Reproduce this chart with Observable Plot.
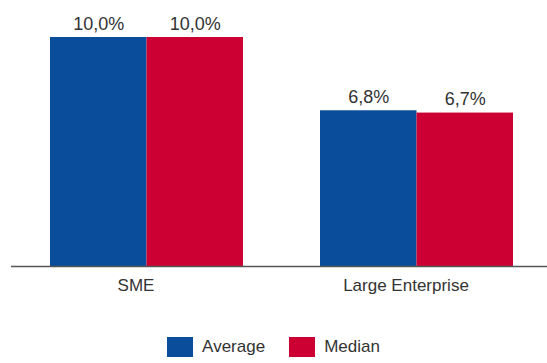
<!DOCTYPE html>
<html>
<head>
<meta charset="utf-8">
<script src="https://cdn.jsdelivr.net/npm/d3@7"></script>
<script src="https://cdn.jsdelivr.net/npm/@observablehq/plot@0.6"></script>
<style>
  html, body { margin: 0; padding: 0; background: #fff; }
  body { width: 547px; height: 363px; overflow: hidden; font-family: "Liberation Sans", Arial, sans-serif; }
  #legend { margin-top: 37px; display: flex; justify-content: center; }
  #legend .sw { display: inline-flex; align-items: center; margin: 0 12px; font-size: 17px; color: #333; }
</style>
</head>
<body>
<div id="chart"></div>
<div id="legend"></div>
<script>
const groups = ["SME", "Large Enterprise"];
const seriesNames = ["Average", "Median"];
const averageValues = [10.0, 6.8];
const medianValues = [10.0, 6.7];
const colors = ["#0a4d9a", "#cc0033"];

const avgData = groups.map((g, i) => ({group: g, series: "Average", value: averageValues[i]}));
const medData = groups.map((g, i) => ({group: g, series: "Median", value: medianValues[i]}));
const fmt = v => v.toFixed(1).replace(".", ",") + "%";

// half of the band width of each category group (two bars side by side)
const half = 96.5;

const plot = Plot.plot({
  width: 547,
  height: 300,
  marginTop: 37,
  marginBottom: 34,
  marginLeft: 11,
  marginRight: 0,
  style: {fontFamily: "Liberation Sans, Arial, sans-serif", fontSize: "17px", color: "#333"},
  x: {domain: groups, paddingInner: 0.285, paddingOuter: 0.135, align: 0.53, label: null},
  y: {domain: [0, 10], axis: null},
  color: {domain: seriesNames, range: colors},
  marks: [
    Plot.barY(avgData, {x: "group", y: "value", fill: "series", insetLeft: 0, insetRight: half}),
    Plot.barY(medData, {x: "group", y: "value", fill: "series", insetLeft: half, insetRight: 0}),
    Plot.text(avgData, {x: "group", y: "value", text: d => fmt(d.value), lineAnchor: "bottom", dx: -half / 2, dy: -8, fill: "#333", fontSize: 18}),
    Plot.text(medData, {x: "group", y: "value", text: d => fmt(d.value), lineAnchor: "bottom", dx: half / 2, dy: -8, fill: "#333", fontSize: 18}),
    Plot.ruleY([0], {stroke: "#555", strokeWidth: 1.5}),
    Plot.axisX({anchor: "bottom", tickSize: 0, tickPadding: 12, fontSize: 17, label: null, fill: "#333", dx: -11, style: {wordSpacing: "3px"}})
  ]
});
document.getElementById("chart").appendChild(plot);

const legend = document.getElementById("legend");
seriesNames.forEach((s, i) => {
  const item = document.createElement("span");
  item.className = "sw";
  item.innerHTML = `<svg width="26" height="20" style="margin-right:9px"><rect width="26" height="20" fill="${colors[i]}"></rect></svg>${s}`;
  legend.appendChild(item);
});
</script>
</body>
</html>
